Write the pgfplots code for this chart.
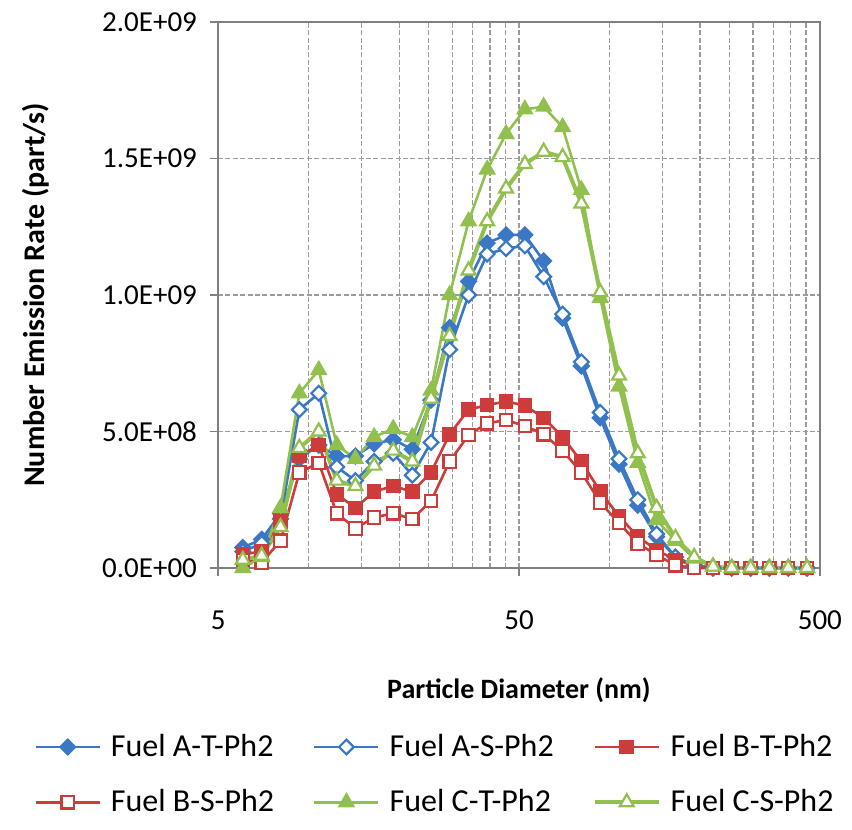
\documentclass[border=0pt]{standalone}
\usepackage{fontspec}
\setmainfont{Carlito}
\usepackage{pgfplots}
\usepackage{pgfplotstable}
\pgfplotsset{compat=1.18}

\definecolor{fuelA}{RGB}{58,120,198}
\definecolor{fuelB}{RGB}{204,60,58}
\definecolor{fuelC}{RGB}{146,192,78}
\definecolor{gridgray}{RGB}{155,155,155}
\definecolor{framegray}{RGB}{128,128,128}

% particle diameter (nm) and emission rate (1E+09 part/s)
\pgfplotstableread{
d      AT     AS     BT     BS     CT     CS
6.04   0.075  0.060  0.050  0.030  0.000  0.030
6.98   0.105  0.090  0.060  0.020  0.040  0.045
8.06   0.200  0.180  0.170  0.100  0.220  0.150
9.31   0.400  0.580  0.410  0.350  0.640  0.440
10.8   0.450  0.640  0.450  0.385  0.725  0.500
12.4   0.410  0.370  0.270  0.200  0.450  0.320
14.3   0.410  0.320  0.220  0.145  0.400  0.300
16.5   0.455  0.390  0.280  0.185  0.480  0.375
19.1   0.470  0.420  0.300  0.200  0.510  0.430
22.1   0.435  0.340  0.280  0.180  0.480  0.390
25.5   0.615  0.460  0.350  0.245  0.650  0.620
29.4   0.880  0.800  0.490  0.390  1.000  0.850
34.0   1.050  1.000  0.580  0.487  1.270  1.090
39.2   1.190  1.150  0.597  0.530  1.460  1.270
45.3   1.220  1.170  0.610  0.542  1.590  1.390
52.3   1.220  1.180  0.595  0.520  1.680  1.480
60.4   1.125  1.067  0.550  0.490  1.690  1.525
69.8   0.915  0.930  0.480  0.430  1.615  1.505
80.6   0.740  0.755  0.390  0.350  1.385  1.335
93.1   0.550  0.570  0.280  0.240  0.990  1.010
107.5  0.380  0.400  0.190  0.165  0.665  0.705
124.1  0.230  0.250  0.115  0.090  0.385  0.420
143.3  0.115  0.125  0.066  0.048  0.176  0.220
165.5  0.040  0.040  0.030  0.010  0.100  0.110
191.1  0.010  0.010  0.010  0.000  0.035  0.040
220.7  0.000  0.000  0.000  0.000  0.005  0.005
254.8  0.000  0.000  0.000  0.000  0.000  0.000
294.3  0.000  0.000  0.000  0.000  0.000  0.000
339.8  0.000  0.000  0.000  0.000  0.000  0.000
392.4  0.000  0.000  0.000  0.000  0.000  0.000
453.2  0.000  0.000  0.000  0.000  0.000  0.000
}\psd

\begin{document}
\begin{tikzpicture}
\path[use as bounding box] (-109pt,-131pt) rectangle (317pt,284pt);
\begin{axis}[
  scale only axis,
  width=301pt, height=273pt,
  xmode=log,
  xmin=4.995, xmax=500.5,
  ymin=0, ymax=2,
  clip=false,
  xtick={5,50,500},
  xticklabels={5,50,500},
  minor xtick={10,15,20,25,30,35,40,45,100,150,200,250,300,350,400,450},
  ytick={0,0.5,1,1.5,2},
  yticklabels={0.0E+00,5.0E+08,1.0E+09,1.5E+09,2.0E+09},
  xtick pos=lower, ytick pos=left,
  tick align=outside,
  major tick length=4pt,
  minor tick length=0pt,
  tick style={framegray, line width=0.7pt},
  axis line style={framegray, line width=0.8pt},
  grid=both,
  major grid style={gridgray, line width=0.7pt, dash pattern=on 2.5pt off 1.2pt},
  minor grid style={gridgray, line width=0.7pt, dash pattern=on 2.5pt off 1.2pt},
  xticklabel style={font=\fontsize{14.5}{16}\selectfont, yshift=-14pt},
  yticklabel style={font=\fontsize{14.5}{16}\selectfont, xshift=-3pt},
  xlabel={\textbf{Particle Diameter (nm)}},
  ylabel={\textbf{Number Emission Rate (part/s)}},
  xlabel style={font=\fontsize{14}{16}\selectfont, at={(axis description cs:0.5,-0.2234)}, anchor=center},
  ylabel style={font=\fontsize{15}{17}\selectfont, at={(axis description cs:-0.302,0.5)}, anchor=center},
  legend columns=3,
  legend style={
    at={(axis description cs:0,0)}, anchor=north west,
    xshift=-95pt, yshift=-79pt,
    draw=none, fill=none,
    font=\fontsize{16}{18}\selectfont,
    row sep=11pt,
    /tikz/every odd column/.append style={column sep=3pt},
    /tikz/every even column/.append style={column sep=17.5pt},
  },
  legend cell align=left,
  legend image code/.code={
    \draw[mark repeat=2, mark phase=2] plot coordinates {(0pt,0pt) (16pt,0pt) (32pt,0pt)};
  },
]

\addplot[fuelA, line width=1.3pt, mark=square*, mark size=2.6pt,
  mark options={rotate=45, solid, fill=fuelA, line width=1.1pt}] table[x=d, y=AT] {\psd};
\addlegendentry{Fuel A-T-Ph2}

\addplot[fuelA, line width=1.3pt, mark=square*, mark size=2.6pt,
  mark options={rotate=45, solid, fill=white, line width=1.1pt}] table[x=d, y=AS] {\psd};
\addlegendentry{Fuel A-S-Ph2}

\addplot[fuelB, line width=1.3pt, mark=square*, mark size=3.1pt,
  mark options={solid, fill=fuelB, line width=1.1pt}] table[x=d, y=BT] {\psd};
\addlegendentry{Fuel B-T-Ph2}

\addplot[fuelB, line width=1.3pt, mark=square*, mark size=3.1pt,
  mark options={solid, fill=white, line width=1.1pt}] table[x=d, y=BS] {\psd};
\addlegendentry{Fuel B-S-Ph2}

\addplot[fuelC, line width=1.3pt, mark=triangle*, mark size=4pt,
  mark options={solid, fill=fuelC, line width=1.1pt}] table[x=d, y=CT] {\psd};
\addlegendentry{Fuel C-T-Ph2}

\addplot[fuelC, line width=2pt, mark=triangle*, mark size=4pt,
  mark options={solid, fill=white, line width=1.1pt}] table[x=d, y=CS] {\psd};
\addlegendentry{Fuel C-S-Ph2}

\end{axis}
\end{tikzpicture}
\end{document}
